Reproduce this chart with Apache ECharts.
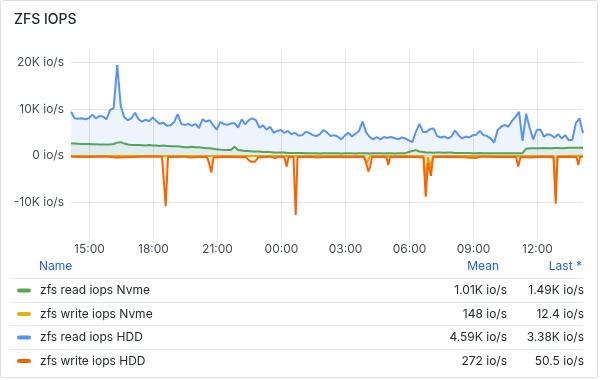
<!DOCTYPE html>
<html>
<head>
<meta charset="utf-8">
<script src="https://cdn.jsdelivr.net/npm/echarts@6/dist/echarts.min.js"></script>
<style>
html,body{margin:0;padding:0;background:#fff;}
#chart{width:600px;height:380px;}
</style>
</head>
<body>
<div id="chart"></div>
<script>
// ---- data ----
// regular 10-minute samples from 14:08 (hours since midnight of day one)
const START_HOUR = 14 + 8 / 60;
const STEP_HOUR = 10 / 60;
const SAMPLE_COUNT = 145;
const sampleTimes = Array.from({ length: SAMPLE_COUNT }, (_, i) => START_HOUR + i * STEP_HOUR);

const readHdd = [
  9400, 8000, 7900, 8000, 7800, 8000, 8800, 8000, 8500, 8400,
  7800, 9800, 10200, 19400, 10600, 8200, 7600, 8000, 9200, 7800,
  7300, 7700, 7400, 8200, 7400, 6800, 7100, 6400, 6500, 7200,
  8900, 6800, 6600, 6800, 6400, 6800, 5900, 7800, 7300, 7600,
  6500, 5600, 7200, 6800, 6600, 6900, 7000, 6000, 7800, 6700,
  7600, 8000, 7600, 6000, 6500, 5600, 6200, 4900, 5300, 5500,
  4900, 5300, 4600, 4900, 4300, 4400, 5100, 4900, 4400, 4200,
  4600, 5500, 5000, 4200, 4400, 4100, 3500, 4300, 4900, 4100,
  4700, 5300, 7300, 5000, 4000, 3500, 4000, 3500, 4000, 3800,
  4000, 3800, 3500, 3900, 3700, 3300, 2900, 5100, 6800, 5100,
  5100, 5700, 5800, 4200, 3900, 4100, 3700, 4100, 5400, 4400,
  3700, 4100, 3900, 4400, 4500, 5300, 4400, 4200, 3700, 2800,
  5500, 6200, 6600, 6200, 7400, 8300, 9400, 3200, 9000, 6000,
  3500, 5500, 5600, 4100, 4600, 4400, 3900, 4600, 3700, 4400,
  3300, 3400, 7000, 8000, 4800
];

const readNvme = [
  2600, 2600, 2550, 2500, 2500, 2500, 2450, 2450, 2400, 2400, 2400,
  2400, 2500, 2800, 2900,
  2600, 2400, 2300, 2300, 2300, 2250, 2200, 2300, 2200, 2200, 2100,
  2200, 2100, 2000, 2000, 2000, 1900, 1800, 1800, 1900, 1800,
  1800, 1700, 1600, 1600, 1500, 1400, 1300, 1200, 1200, 1200,
  1900,
  1200, 1100, 1000, 1000, 900, 900, 900, 800,
  800, 800, 700, 700, 700, 700, 600, 600, 600, 600, 600,
  500, 550, 500, 500, 450, 500, 500, 550, 500, 500, 450, 500, 500, 500, 450,
  500, 500, 500, 450, 500, 500, 500, 450, 500, 500, 450, 500, 500, 550,
  800, 1000, 1200, 900, 800,
  700, 700, 650, 700, 700, 650, 700, 700, 600, 600, 600, 600, 600, 550,
  550, 600, 550, 550, 500, 500, 500, 500, 550, 500, 500, 500, 500, 550,
  1500, 1600, 1600, 1600, 1600, 1650, 1600, 1600, 1650, 1650, 1600, 1650,
  1700, 1700, 1700, 1700, 1700
];

// write series (shown as negative), sampled at their own times (hours)
const writeHddTimes = [
  14.133, 15.024, 15.727, 16.243, 16.336, 16.8, 17.368, 17.9, 18.399, 18.469, 18.572, 18.68,
  19.477, 19.7, 20.18, 20.508, 20.602, 20.71, 20.813, 21.587, 22.0, 22.336, 22.43, 22.571,
  22.758, 22.899, 23.462, 23.696, 23.93, 24.141, 24.244, 24.329, 24.563, 24.666, 24.751,
  25.337, 25.7, 26.04, 26.743, 27.1, 27.446, 27.868, 27.962, 28.07, 28.149, 28.243,
  28.923, 29.007, 29.087, 29.555, 30.258, 30.657, 30.76, 30.868, 30.938, 31.008, 31.102,
  31.899, 32.5, 33.118, 33.305, 34.243, 34.993, 35.101, 35.204, 35.7, 36.118, 36.751,
  36.854, 36.938, 37.524, 37.829, 37.913, 37.993, 38.133
];
const writeHdd = [
  -200, -300, -150, -400, -200, -350, -250, -150, -200, -300, -10800, -300,
  -200, -400, -300, -300, -1500, -3600, -400, -200, -350, -300, -800, -1300,
  -1300, -400, -200, -500, -200, -400, -2300, -300, -300, -12700, -300,
  -200, -400, -300, -200, -350, -300, -300, -1500, -3400, -2500, -300,
  -300, -2000, -300, -200, -300, -400, -8800, -1500, -1300, -4300, -300,
  -200, -350, -500, -200, -300, -300, -2300, -300, -400, -200, -300,
  -10300, -300, -200, -300, -2000, -300, -200
];

const writeNvmeTimes = [
  14.133, 20.18, 27.868, 28.008, 28.149, 30.657, 30.76, 30.868, 31.008, 31.102,
  36.751, 36.854, 36.938, 38.133
];
const writeNvme = [
  -60, -80, -80, -1500, -80, -80, -5000, -300, -2500, -80,
  -80, -6500, -80, -20
];

const seriesNames = ['zfs read iops Nvme', 'zfs write iops Nvme', 'zfs read iops HDD', 'zfs write iops HDD'];
const meanLabels = ['1.01K io/s', '148 io/s', '4.59K io/s', '272 io/s'];
const lastLabels = ['1.49K io/s', '12.4 io/s', '3.38K io/s', '50.5 io/s'];
const tableHeaders = ['Name', 'Mean', 'Last *'];

// ---- chart ----
const COLORS = ['#56A64B', '#E0B400', '#5794F2', '#FA6400'];
const FONT = 'Inter, "Noto Sans", sans-serif';
const TEXT = '#24292E';
const GRID = 'rgba(36,41,46,0.12)';

function pairs(xs, ys) { return xs.map((x, i) => [x, ys[i]]); }

function lineSeries(name, data, color, z) {
  return {
    type: 'line', name, data, z,
    showSymbol: false, symbol: 'none',
    lineStyle: { width: 2, color },
    itemStyle: { color },
    areaStyle: { color, opacity: 0.1 },
    animation: false
  };
}

const chart = echarts.init(document.getElementById('chart'), null, { renderer: 'canvas' });

const graphics = [];
graphics.push({
  type: 'rect', silent: true, z: -10,
  shape: { x: 0.5, y: 0.5, width: 597, height: 377, r: 2 },
  style: { fill: 'none', stroke: '#DCDEE0', lineWidth: 1 }
});
graphics.push({ type: 'text', x: 39, y: 266, style: { text: tableHeaders[0], fill: '#1F62E0', font: '12px ' + FONT, textAlign: 'left', textVerticalAlign: 'middle' } });
graphics.push({ type: 'text', x: 499, y: 266, style: { text: tableHeaders[1], fill: '#1F62E0', font: '12px ' + FONT, textAlign: 'right', textVerticalAlign: 'middle' } });
graphics.push({ type: 'text', x: 582, y: 266, style: { text: tableHeaders[2], fill: '#1F62E0', font: '12px ' + FONT, textAlign: 'right', textVerticalAlign: 'middle' } });
const sepY = [278.5, 302.5, 325.5, 349.5];
sepY.forEach(y => graphics.push({
  type: 'line', silent: true,
  shape: { x1: 10, y1: y, x2: 583, y2: y },
  style: { stroke: GRID, lineWidth: 1 }
}));
const rowY = [290.5, 314, 337.5, 361];
seriesNames.forEach((n, i) => {
  const y = rowY[i];
  graphics.push({ type: 'rect', shape: { x: 17, y: y - 2, width: 14, height: 4, r: 2 }, style: { fill: COLORS[i] } });
  graphics.push({ type: 'text', x: 40, y, style: { text: n, fill: TEXT, font: '12px ' + FONT, textAlign: 'left', textVerticalAlign: 'middle' } });
  graphics.push({ type: 'text', x: 507, y, style: { text: meanLabels[i], fill: TEXT, font: '12px ' + FONT, textAlign: 'right', textVerticalAlign: 'middle' } });
  graphics.push({ type: 'text', x: 584, y, style: { text: lastLabels[i], fill: TEXT, font: '12px ' + FONT, textAlign: 'right', textVerticalAlign: 'middle' } });
});

const option = {
  animation: false,
  backgroundColor: '#ffffff',
  title: {
    text: 'ZFS IOPS', left: 9, top: 8,
    textStyle: { fontSize: 14, fontWeight: 500, color: TEXT, fontFamily: FONT }
  },
  grid: { left: 71, right: 17, top: 50, bottom: 142, containLabel: false },
  xAxis: {
    type: 'value',
    min: START_HOUR, max: START_HOUR + 24,
    splitNumber: 8,
    axisLine: { show: false }, axisTick: { show: false },
    axisLabel: {
      color: '#464C54', fontSize: 12, fontFamily: FONT, margin: 5,
      showMinLabel: false, showMaxLabel: false,
      formatter: v => String(Math.round(v) % 24).padStart(2, '0') + ':00'
    },
    splitLine: { show: true, showMinLine: false, showMaxLine: false, lineStyle: { color: GRID, width: 1 } }
  },
  yAxis: {
    type: 'value',
    min: -17620, max: 22630,
    splitNumber: 5,
    axisLine: { show: false }, axisTick: { show: false },
    axisLabel: {
      color: '#464C54', fontSize: 12, fontFamily: FONT, margin: 7,
      showMinLabel: false, showMaxLabel: false,
      formatter: v => v === 0 ? '0 io/s' : (v / 1000) + 'K io/s'
    },
    splitLine: { show: true, showMinLine: false, showMaxLine: false, lineStyle: { color: GRID, width: 1 } }
  },
  series: [
    lineSeries(seriesNames[0], pairs(sampleTimes, readNvme), COLORS[0], 2),
    lineSeries(seriesNames[1], pairs(writeNvmeTimes, writeNvme), COLORS[1], 3),
    lineSeries(seriesNames[2], pairs(sampleTimes, readHdd), COLORS[2], 4),
    lineSeries(seriesNames[3], pairs(writeHddTimes, writeHdd), COLORS[3], 5)
  ],
  graphic: graphics
};
chart.setOption(option);
</script>
</body>
</html>
